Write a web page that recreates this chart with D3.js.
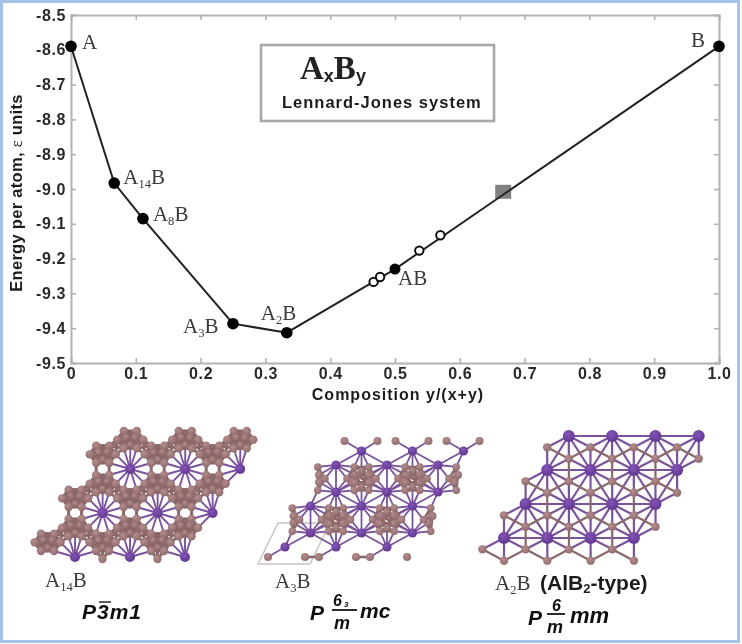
<!DOCTYPE html>
<html><head><meta charset="utf-8">
<script src="https://d3js.org/d3.v7.min.js"></script>
<style>
html,body{margin:0;padding:0;background:#fff}
svg{display:block}
.tick text{font:bold 16px "Liberation Sans",sans-serif;fill:#2a2a2a;letter-spacing:.6px}
.ser{font-family:"Liberation Serif",serif;fill:#3a3a3a}
.san{font-family:"Liberation Sans",sans-serif;font-weight:bold;fill:#1c1c1c}
.sg{font-family:"Liberation Sans",sans-serif;font-weight:bold;font-style:italic;fill:#111}
</style></head><body>
<script>
// ---- chart data ----
const hullComposition = [0, 0.0667, 0.111, 0.25, 0.333, 0.5, 1];
const hullEnergy      = [-8.59, -8.983, -9.085, -9.387, -9.413, -9.23, -8.59];
const hullLabels      = [["A"],["A","14","B"],["A","8","B"],["A","3","B"],["A","2","B"],["AB"],["B"]];
const labelDx = [11, 9, 10, -50, -26, 3, -28];
const labelDy = [3, 1, 2, 9, -13, 16, 1];
const openComposition = [0.467, 0.477, 0.5375, 0.57];
const openEnergy      = [-9.267, -9.253, -9.177, -9.133];
const squareComposition = [0.667];
const squareEnergy      = [-9.008];
const xTicks = [0,0.1,0.2,0.3,0.4,0.5,0.6,0.7,0.8,0.9,1];
const yTicks = [-8.5,-8.6,-8.7,-8.8,-8.9,-9,-9.1,-9.2,-9.3,-9.4,-9.5];

const W=742,H=644;
const svg=d3.select("body").append("svg").attr("width",W).attr("height",H);
const defs=svg.append("defs");
defs.append("filter").attr("id","soft").attr("x","-5%").attr("y","-5%").attr("width","110%").attr("height","110%")
  .append("feGaussianBlur").attr("stdDeviation",0.5);
function grad(id,a,b){
  const g=defs.append("radialGradient").attr("id",id).attr("cx","40%").attr("cy","35%").attr("r","70%");
  g.append("stop").attr("offset","0%").attr("stop-color",a);
  g.append("stop").attr("offset","100%").attr("stop-color",b);
}
grad("gB","#b48d8d","#8f6a6b");grad("gP","#8455b5","#5f3590");

const root=svg.append("g").attr("filter","url(#soft)");
root.append("rect").attr("x",1.5).attr("y",1.5).attr("width",737).attr("height",640)
  .attr("fill","#fff").attr("stroke","#a5c3e6").attr("stroke-width",3);

// ---- axes ----
const x=d3.scaleLinear().domain([0,1]).range([71,719]);
const y=d3.scaleLinear().domain([-8.5,-9.5]).range([15,363]);
const plot=root.append("g");
const axisCol="#b2b2b2";
function style(g){g.selectAll("path,line").attr("stroke",axisCol).attr("stroke-width",1.6);}
const fx=d=>d===0?"0":d3.format(".1f")(d);
const fy=d=>d.toFixed(1);
plot.append("g").attr("transform","translate(0,363)").call(d3.axisBottom(x).tickValues(xTicks).tickFormat(fx).tickSize(-5).tickPadding(5)).call(style);
plot.append("g").attr("transform","translate(0,15)").call(d3.axisTop(x).tickValues(xTicks).tickFormat("").tickSize(-5)).call(style);
plot.append("g").attr("transform","translate(71,0)").call(d3.axisLeft(y).tickValues(yTicks).tickFormat(fy).tickSize(-5).tickPadding(5)).call(style);
plot.append("g").attr("transform","translate(719,0)").call(d3.axisRight(y).tickValues(yTicks).tickFormat("").tickSize(-5)).call(style);
plot.selectAll(".domain").attr("stroke-width",2);

// ---- line and marks ----
const line=d3.line().x(d=>x(d[0])).y(d=>y(d[1]));
const hull=hullComposition.map((c,i)=>[c,hullEnergy[i]]);
const sq=squareComposition.map((c,i)=>[c,squareEnergy[i]]);
plot.selectAll(".sq").data(sq).join("rect").attr("x",d=>x(d[0])-8).attr("y",d=>y(d[1])-7).attr("width",16).attr("height",14).attr("fill","#808080");
plot.append("path").attr("d",line(hull)).attr("fill","none").attr("stroke","#222").attr("stroke-width",2);
plot.selectAll(".op").data(openComposition.map((c,i)=>[c,openEnergy[i]])).join("circle")
  .attr("cx",d=>x(d[0])).attr("cy",d=>y(d[1])).attr("r",4.2).attr("fill","#fff").attr("stroke","#111").attr("stroke-width",2);
plot.selectAll(".so").data(hull).join("circle").attr("cx",d=>x(d[0])).attr("cy",d=>y(d[1])).attr("r",(d,i)=>i==5?5.5:5.8).attr("fill","#000");

function subLabel(parent,px,py,parts,size){
  const t=parent.append("text").attr("class","ser").attr("x",px).attr("y",py).attr("font-size",size);
  parts.forEach((p,i)=>{
    const sub=parts.length===3&&i===1;
    t.append("tspan").attr("font-size",sub?size*.6:size).attr("dy",sub?size*.2:(parts.length===3&&i===2?-size*.2:0)).text(p);
  });
  return t;
}
hull.forEach((d,i)=>subLabel(plot,x(d[0])+labelDx[i],y(d[1])+labelDy[i],hullLabels[i],21));

// ---- axis titles ----
plot.append("text").attr("class","san").attr("x",398).attr("y",400).attr("text-anchor","middle").attr("font-size",16).attr("letter-spacing",1).text("Composition y/(x+y)");
const yt=plot.append("text").attr("class","san").attr("transform","translate(22,193) rotate(-90)").attr("text-anchor","middle").attr("font-size",16.5).attr("letter-spacing",.3);
yt.append("tspan").text("Energy per atom, ");
yt.append("tspan").attr("font-family","Liberation Serif").attr("font-weight","normal").text("ε");
yt.append("tspan").text(" units");

// ---- inset box ----
plot.append("rect").attr("x",261).attr("y",45).attr("width",233).attr("height",76).attr("fill","#fff").attr("stroke","#a8a8a8").attr("stroke-width",2.6);
const tb=plot.append("text").attr("x",300).attr("y",79).attr("font-size",33).attr("font-family","Liberation Serif").attr("font-weight","bold").attr("fill","#222");
tb.append("tspan").text("A");
tb.append("tspan").attr("font-family","Liberation Sans").attr("font-size",18).attr("dy",3).text("x");
tb.append("tspan").attr("dy",-3).text("B");
tb.append("tspan").attr("font-family","Liberation Sans").attr("font-size",18).attr("dy",3).text("y");
plot.append("text").attr("class","san").attr("x",282).attr("y",108).attr("font-size",16.5).attr("letter-spacing",1).text("Lennard-Jones system");

// ---- crystal structure panels ----
const fracA14 = [[1/3,1/3],[2/3,2/3]];
const cellsA14i = [-1,0,1], rowsAll = [0,1,2];
const ringAngles = [0,60,120,180,240,300];
const innerAngles = [90,210,330];
const pi=Math.PI/180;

function drawCrystal(g,atoms,cutBB,cutPB,cutPP,wB,wP){
  const bonds=[];
  atoms.forEach((a,i)=>atoms.forEach((b,j)=>{
    if(j<=i)return;
    const d=Math.hypot(a.x-b.x,a.y-b.y);
    const pp=a.t==="P"&&b.t==="P", bb=a.t==="B"&&b.t==="B";
    const cut=pp?cutPP:bb?cutBB:cutPB;
    if(d<cut&&d>1) bonds.push({a,b,kind:bb?"b":"p"});
  }));
  g.selectAll(".bond").data(bonds).join("line")
    .attr("x1",d=>d.a.x).attr("y1",d=>d.a.y).attr("x2",d=>d.b.x).attr("y2",d=>d.b.y)
    .attr("stroke",d=>d.kind==="b"?"#8a686a":"#7a539c").attr("stroke-width",d=>d.kind==="b"?wB:wP);
  const sorted=atoms.slice().sort((a,b)=>(a.t==="P")-(b.t==="P"));
  g.selectAll(".atom").data(sorted).join("circle")
    .attr("cx",d=>d.x).attr("cy",d=>d.y).attr("r",d=>d.r).attr("fill",d=>d.t==="P"?"url(#gP)":"url(#gB)");
}

// A14B
(function(){
  const g=root.append("g");
  const o={x:75,y:557},a=[55,0],b=[27.6,-44];
  const at=(i,j)=>({x:o.x+i*a[0]+j*b[0],y:o.y+i*a[1]+j*b[1]});
  const atoms=[];
  rowsAll.forEach(j=>rowsAll.forEach(i=>atoms.push({...at(i,j),t:"P",r:5})));
  cellsA14i.forEach(i=>rowsAll.forEach(j=>fracA14.forEach(f=>{
    const c=at(i+f[0],j+f[1]);
    g.append("ellipse").attr("cx",c.x).attr("cy",c.y).attr("rx",13).attr("ry",10).attr("fill","#a27c7d");
    ringAngles.forEach(t=>atoms.push({x:c.x+13*Math.cos(t*pi),y:c.y+10*Math.sin(t*pi),t:"B",r:4.2}));
    innerAngles.forEach(t=>atoms.push({x:c.x+5*Math.cos(t*pi),y:c.y+5*Math.sin(t*pi),t:"B",r:3}));
  })));
  [0,1].forEach(i=>{ const p=at(i+.5,0); atoms.push({x:p.x,y:p.y+2,t:"B",r:4.2}); });
  drawCrystal(g,atoms,16,25,0,3,1.9);
  subLabel(g,45,587,["A","14","B"],21);
  g.append("text").attr("class","sg").attr("x",82).attr("y",619).attr("font-size",21).attr("letter-spacing",1).text("P3m1");
  g.append("line").attr("x1",99).attr("x2",111).attr("y1",602).attr("y2",602).attr("stroke","#111").attr("stroke-width",1.4);
})();

// A3B
(function(){
  const g=root.append("g");
  g.append("path").attr("d","M258,564L310,564L330,523L278,523Z").attr("fill","none").attr("stroke","#c4c4c4").attr("stroke-width",1.4);
  const o={x:285,y:547},a=[51,0],b=[25.5,-41];
  const at=(i,j)=>({x:o.x+i*a[0]+j*b[0],y:o.y+i*a[1]+j*b[1]});
  const atoms=[];
  [0,1,2].forEach(i=>[0,1,2].forEach(j=>{
    const p=at(i,j);
    atoms.push({...p,t:"P",r:4.6});
    atoms.push({x:p.x+25.5,y:p.y-14,t:"P",r:4.6});
    [[-17,10],[20,10]].forEach(d=>atoms.push({x:p.x+d[0],y:p.y+d[1],t:"B",r:4}));
    [[-17,-10],[16,-10]].forEach(d=>atoms.push({x:p.x+25.5+d[0],y:p.y-14+d[1],t:"B",r:4}));
  }));
  [0,1].forEach(i=>[0,1].forEach(j=>{
    const c=at(i+2/3,j+2/3);
    ringAngles.forEach(t=>atoms.push({x:c.x+8*Math.cos((t+30)*pi),y:c.y+8*Math.sin((t+30)*pi),t:"B",r:3.4}));
    ringAngles.forEach(t=>atoms.push({x:c.x+14.5*Math.cos(t*pi),y:c.y+13.5*Math.sin(t*pi),t:"B",r:3.8}));
  }));
  // partial rings along the left and right edges of the sheet
  [[-1,0],[-1,1],[2,0],[2,1]].forEach(([i,j])=>{
    const c=at(i+2/3,j+2/3), side=i<0?1:-1;
    [0,60,-60].forEach(t=>atoms.push({x:c.x+side*14.5*Math.cos(t*pi),y:c.y+13.5*Math.sin(t*pi),t:"B",r:3.8}));
  });
  drawCrystal(g,atoms,16,21,30,2.6,1.8);
  subLabel(g,275,588,["A","3","B"],21);
  g.append("text").attr("class","sg").attr("x",310).attr("y",620).attr("font-size",21).text("P");
  g.append("text").attr("class","sg").attr("x",333).attr("y",606).attr("font-size",16).text("6");
  g.append("text").attr("class","sg").attr("x",344).attr("y",607).attr("font-size",8).text("3");
  g.append("line").attr("x1",332).attr("x2",357).attr("y1",610).attr("y2",610).attr("stroke","#111").attr("stroke-width",1.8);
  g.append("text").attr("class","sg").attr("x",334).attr("y",629).attr("font-size",18).text("m");
  g.append("text").attr("class","sg").attr("x",360).attr("y",618).attr("font-size",21).text("mc");
})();

// A2B
(function(){
  const g=root.append("g");
  const o={x:504,y:538},a=[43.3,0],b=[21.6,-34];
  const at=(i,j)=>({x:o.x+i*a[0]+j*b[0],y:o.y+i*a[1]+j*b[1]});
  const atoms=[];
  [0,1,2,3].forEach(i=>[0,1,2,3].forEach(j=>atoms.push({...at(i,j),t:"P",r:6})));
  [0,1,2,3].forEach(i=>[-1,0,1,2].forEach(j=>atoms.push({...at(i+1/3,j+1/3),t:"B",r:4.2})));
  [-1,0,1,2].forEach(i=>[-1,0,1,2].forEach(j=>atoms.push({...at(i+2/3,j+2/3),t:"B",r:4.2})));
  drawCrystal(g,atoms,27,27,44.5,2.2,2.2);
  subLabel(g,495,590,["A","2","B"],21);
  const s=g.append("text").attr("class","san").attr("x",540).attr("y",590).attr("font-size",21);
  s.append("tspan").text("(AlB");
  s.append("tspan").attr("font-size",13).attr("dy",3).text("2");
  s.append("tspan").attr("dy",-3).text("-type)");
  g.append("text").attr("class","sg").attr("x",528).attr("y",625).attr("font-size",21).text("P");
  g.append("text").attr("class","sg").attr("x",552).attr("y",611).attr("font-size",16).text("6");
  g.append("line").attr("x1",547).attr("x2",565).attr("y1",614).attr("y2",614).attr("stroke","#111").attr("stroke-width",1.8);
  g.append("text").attr("class","sg").attr("x",547).attr("y",633).attr("font-size",18).text("m");
  g.append("text").attr("class","sg").attr("x",570).attr("y",623).attr("font-size",22).text("mm");
})();
</script>
</body></html>
